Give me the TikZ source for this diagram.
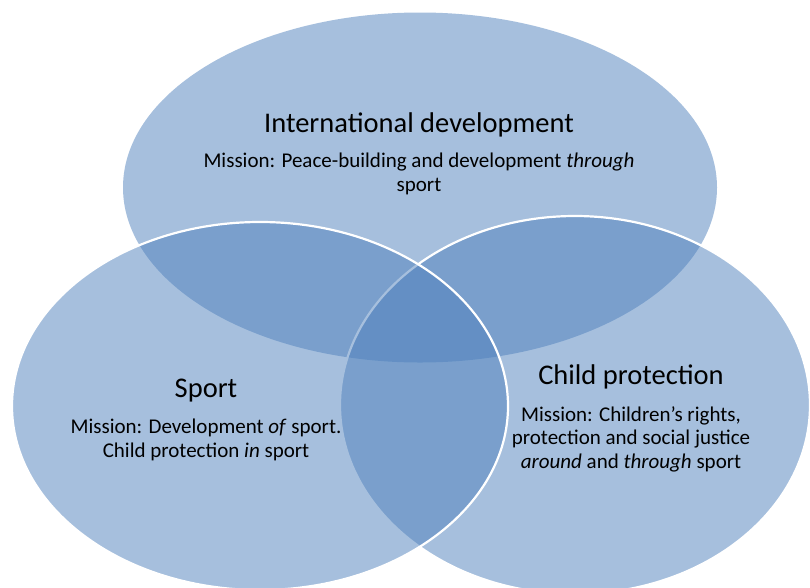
\documentclass[tikz,border=0pt]{standalone}
\usepackage{fontspec}
\setmainfont{Carlito}
\usetikzlibrary{positioning}
\definecolor{vennblue}{RGB}{79,129,189}

\begin{document}
\begin{tikzpicture}[x=1pt, y=-1pt,
    venn/.style={fill=vennblue, fill opacity=0.5},
    vennedge/.style={venn, draw=white, line width=2.2pt},
    title/.style={anchor=base, inner sep=0pt, font=\fontsize{28.5}{34}\selectfont},
    mission/.style={anchor=base, inner sep=0pt, align=center, font=\fontsize{21}{23.5}\selectfont}]
    \useasboundingbox[fill=white] (0,0) rectangle (810,587);
    % the three circles
    \fill[venn] (420,187.5) ellipse [x radius=297, y radius=175];
    \draw[vennedge] (575,405) ellipse [x radius=235, y radius=189];
    \draw[vennedge] (260,406) ellipse [x radius=248, y radius=184];
    % labels (base = last line)
    \node[title] (devtitle) at (419,132) {International development};
    \node[mission] (devmission) at (419,191) {Mission: Peace-building and development \textit{through}\\sport};
    \node[title] (sporttitle) at (206,397) {Sport};
    \node[mission] (sportmission) at (206,457) {Mission: Development \textit{of} sport.\\Child protection \textit{in} sport};
    \node[title] (childtitle) at (631,384) {Child protection};
    \node[mission] (childmission) at (631,468) {Mission: Children’s rights,\\protection and social justice\\\textit{around} and \textit{through} sport};
\end{tikzpicture}
\end{document}
